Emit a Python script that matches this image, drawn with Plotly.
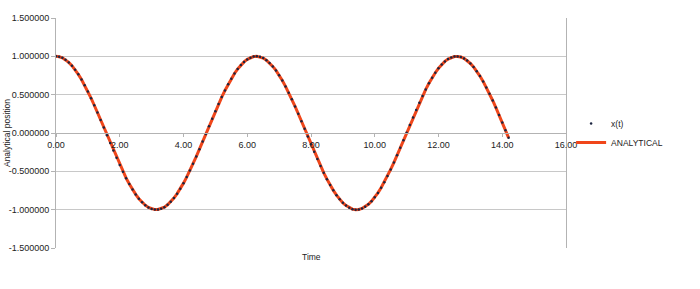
import plotly.graph_objects as go

time = [round(i * 0.1, 1) for i in range(143)]
position = [
    1.000, 0.995, 0.980, 0.955, 0.921, 0.878, 0.825, 0.765, 0.697, 0.622,
    0.540, 0.454, 0.362, 0.267, 0.170, 0.071, -0.029, -0.129, -0.227, -0.323,
    -0.416, -0.505, -0.589, -0.666, -0.737, -0.801, -0.857, -0.904, -0.942, -0.971,
    -0.990, -0.999, -0.998, -0.987, -0.967, -0.936, -0.897, -0.848, -0.791, -0.726,
    -0.654, -0.575, -0.490, -0.401, -0.307, -0.211, -0.112, -0.012, 0.087, 0.187,
    0.284, 0.378, 0.468, 0.554, 0.635, 0.709, 0.776, 0.835, 0.886, 0.927,
    0.960, 0.983, 0.997, 1.000, 0.993, 0.977, 0.950, 0.914, 0.869, 0.816,
    0.754, 0.685, 0.608, 0.526, 0.439, 0.347, 0.251, 0.153, 0.054, -0.046,
    -0.146, -0.243, -0.339, -0.431, -0.520, -0.602, -0.679, -0.748, -0.811, -0.865,
    -0.911, -0.947, -0.975, -0.993, -1.000, -0.997, -0.984, -0.962, -0.930, -0.889,
    -0.839, -0.781, -0.714, -0.641, -0.561, -0.475, -0.386, -0.291, -0.194, -0.095,
    0.004, 0.104, 0.203, 0.300, 0.394, 0.483, 0.569, 0.648, 0.721, 0.786,
    0.844, 0.893, 0.934, 0.965, 0.986, 0.998, 0.999, 0.991, 0.973, 0.945,
    0.907, 0.861, 0.806, 0.743, 0.673, 0.595, 0.512, 0.424, 0.331, 0.235,
    0.137, 0.037, -0.063,
]
x_ticks = [0, 2, 4, 6, 8, 10, 12, 14, 16]
y_ticks = [-1.5, -1.0, -0.5, 0.0, 0.5, 1.0, 1.5]

font = dict(family="Liberation Sans, Arial, sans-serif", size=8.5, color="#222222")

fig = go.Figure()
fig.add_trace(go.Scatter(
    x=time, y=position, mode="lines", name="ANALYTICAL",
    line=dict(color="#f0461a", width=3), legendrank=2,
))
fig.add_trace(go.Scatter(
    x=time, y=position, mode="markers", name="x(t)",
    marker=dict(color="#1c2540", size=2.5), legendrank=1,
))

fig.update_layout(
    width=700, height=289,
    margin=dict(l=56, r=134, t=18, b=41, autoexpand=False),
    paper_bgcolor="white", plot_bgcolor="white",
    font=font,
    showlegend=True,
    legend=dict(x=1.01, y=0.5, xanchor="left", yanchor="middle",
                font=dict(size=8.5), tracegroupgap=0, itemwidth=30,
                bgcolor="rgba(0,0,0,0)"),
    xaxis=dict(
        range=[0, 16], tickvals=x_ticks,
        ticktext=[f"{v:.2f}" for v in x_ticks],
        tickfont=dict(size=9),
        showgrid=False, zeroline=False,
        showline=True, linecolor="#b3b3b3", linewidth=1,
        ticks="outside", ticklen=3, tickcolor="#b3b3b3",
        anchor="free", position=0.5, automargin=False,
    ),
    yaxis=dict(
        range=[-1.5, 1.5], tickvals=y_ticks,
        ticktext=[f"{v:.6f}" for v in y_ticks],
        tickfont=dict(size=9),
        showgrid=True, gridcolor="#c8c8c8", gridwidth=1,
        zeroline=False,
        showline=True, linecolor="#b3b3b3", linewidth=1, mirror=True,
        ticks="outside", ticklen=4, tickcolor="#b3b3b3",
        automargin=False,
    ),
    annotations=[
        dict(text="Time", xref="paper", yref="paper", x=0.5, y=-0.01,
             xanchor="center", yanchor="top", showarrow=False, font=dict(size=8.5)),
        dict(text="Analytical position", xref="paper", yref="paper",
             x=-0.096, y=0.5, xanchor="center", yanchor="middle",
             textangle=-90, showarrow=False, font=dict(size=8.5)),
    ],
)

fig.write_html("out.html")
